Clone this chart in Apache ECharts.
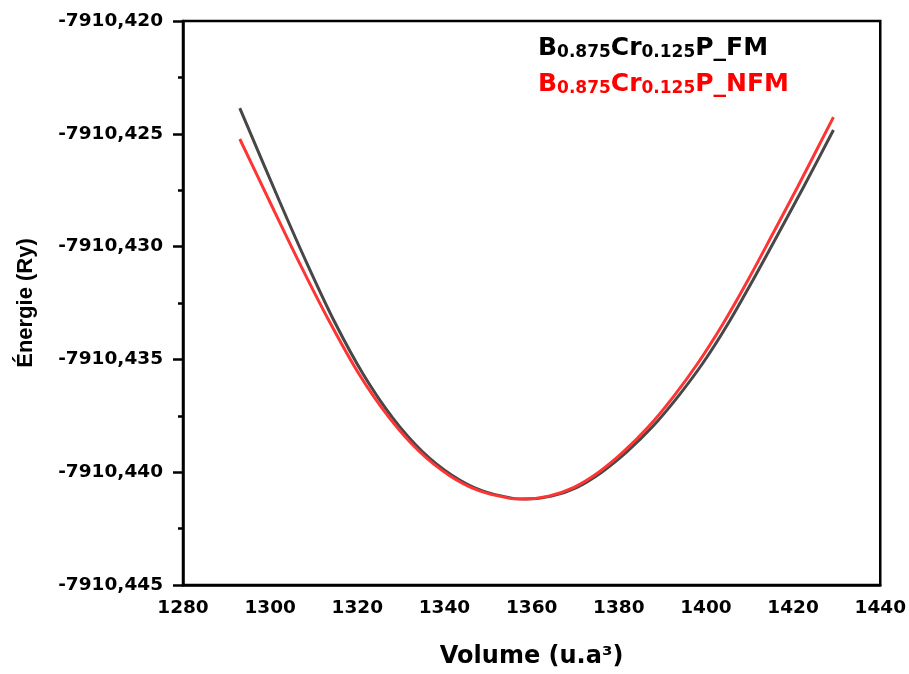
<!DOCTYPE html>
<html>
<head>
<meta charset="utf-8">
<script src="https://cdn.jsdelivr.net/npm/echarts@6/dist/echarts.min.js"></script>
<style>html,body{margin:0;padding:0;background:#fff}#c{width:909px;height:674px}</style>
</head>
<body>
<div id="c"></div>
<script>
// Volume (u.a^3) and energy (Ry)
const volFM = [1293.03, 1302.17, 1308.41, 1314.74, 1321.39, 1328.07, 1334.86, 1341.71, 1348.57, 1355.43, 1358.86, 1364.57, 1370.29, 1376.00, 1381.83, 1387.66, 1393.49, 1399.31, 1405.03, 1410.74, 1416.57, 1422.40, 1429.26];
const energyFM = [-7910.42386, -7910.42800, -7910.43073, -7910.43332, -7910.43567, -7910.43758, -7910.43907, -7910.44013, -7910.44082, -7910.44115, -7910.44119, -7910.44106, -7910.44068, -7910.44001, -7910.43910, -7910.43800, -7910.43667, -7910.43516, -7910.43343, -7910.43150, -7910.42944, -7910.42736, -7910.42483];
const volNFM = [1293.03, 1299.89, 1306.74, 1313.60, 1320.46, 1327.31, 1334.17, 1341.03, 1347.89, 1354.74, 1358.17, 1363.89, 1369.60, 1375.31, 1381.03, 1386.74, 1392.46, 1398.17, 1403.89, 1409.60, 1415.31, 1421.03, 1429.26];
const energyNFM = [-7910.42523, -7910.42800, -7910.43073, -7910.43332, -7910.43567, -7910.43758, -7910.43907, -7910.44013, -7910.44082, -7910.44115, -7910.44119, -7910.44106, -7910.44068, -7910.44001, -7910.43910, -7910.43800, -7910.43667, -7910.43516, -7910.43343, -7910.43150, -7910.42944, -7910.42736, -7910.42426];
const xTicks = {min: 1280, max: 1440, step: 20};
const yTicks = {min: -7910.445, max: -7910.420, step: 0.005};
const seriesNames = ['B0.875Cr0.125P_FM', 'B0.875Cr0.125P_NFM'];

const pair = (xs, ys) => xs.map((x, i) => [x, ys[i]]);
const chart = echarts.init(document.getElementById('c'), null, {renderer: 'canvas'});
const lab = txt => {
  const m = txt.match(/^B([\d.]+)Cr([\d.]+)P(_.*)$/);
  return '{m|B}{s|' + m[1] + '}{m|Cr}{s|' + m[2] + '}{m|P' + m[3] + '}';
};
const richFor = color => ({
  m: {fontFamily: 'DejaVu Sans', fontWeight: 'bold', fontSize: 25, fill: color, color: color, lineHeight: 30, verticalAlign: 'bottom'},
  s: {fontFamily: 'DejaVu Sans', fontWeight: 'bold', fontSize: 17, fill: color, color: color, lineHeight: 2, verticalAlign: 'bottom'}
});
chart.setOption({
  animation: false,
  backgroundColor: '#fff',
  grid: {left: 183, right: 26, top: 21, bottom: 89, show: true, borderColor: '#000', borderWidth: 2.5, backgroundColor: 'transparent'},
  xAxis: {
    type: 'value', min: xTicks.min, max: xTicks.max, interval: xTicks.step,
    name: 'Volume (u.a³)', nameLocation: 'middle', nameGap: 60,
    nameTextStyle: {fontFamily: 'DejaVu Sans', fontWeight: 'bold', fontSize: 24, color: '#000'},
    axisLine: {show: true, lineStyle: {color: '#000', width: 2.5}},
    axisTick: {show: false},
    splitLine: {show: false},
    axisLabel: {margin: 14, fontFamily: 'DejaVu Sans', fontWeight: 'bold', fontSize: 18.5, color: '#000',
      formatter: v => String(v)}
  },
  yAxis: {
    type: 'value', min: yTicks.min, max: yTicks.max, interval: yTicks.step,
    name: 'Énergie (Ry)', nameLocation: 'middle', nameGap: 146, nameRotate: 90,
    nameTextStyle: {fontFamily: 'Liberation Sans', fontWeight: 'bold', fontSize: 22, color: '#000'},
    axisLine: {show: true, lineStyle: {color: '#000', width: 2.5}},
    axisTick: {show: true, inside: false, length: 10, lineStyle: {color: '#000', width: 2.5}},
    minorTick: {show: true, splitNumber: 2, length: 5, lineStyle: {color: '#000', width: 2.5}},
    splitLine: {show: false},
    axisLabel: {margin: 20, fontFamily: 'DejaVu Sans', fontWeight: 'bold', fontSize: 18.5, color: '#000',
      formatter: v => v.toFixed(3).replace('.', ',')}
  },
  series: [
    {name: seriesNames[0], type: 'line', data: pair(volFM, energyFM), smooth: 0.3, showSymbol: false,
     lineStyle: {color: '#474747', width: 3}, itemStyle: {color: '#474747'}},
    {name: seriesNames[1], type: 'line', data: pair(volNFM, energyNFM), smooth: 0.3, showSymbol: false,
     lineStyle: {color: '#ff3535', width: 3}, itemStyle: {color: '#ff3535'}}
  ],
  graphic: [
    {type: 'text', left: 538, top: 36, style: {text: lab(seriesNames[0]), fill: '#000', rich: richFor('#000')}},
    {type: 'text', left: 538, top: 72, style: {text: lab(seriesNames[1]), fill: '#ff0000', rich: richFor('#ff0000')}}
  ]
});
</script>
</body>
</html>
